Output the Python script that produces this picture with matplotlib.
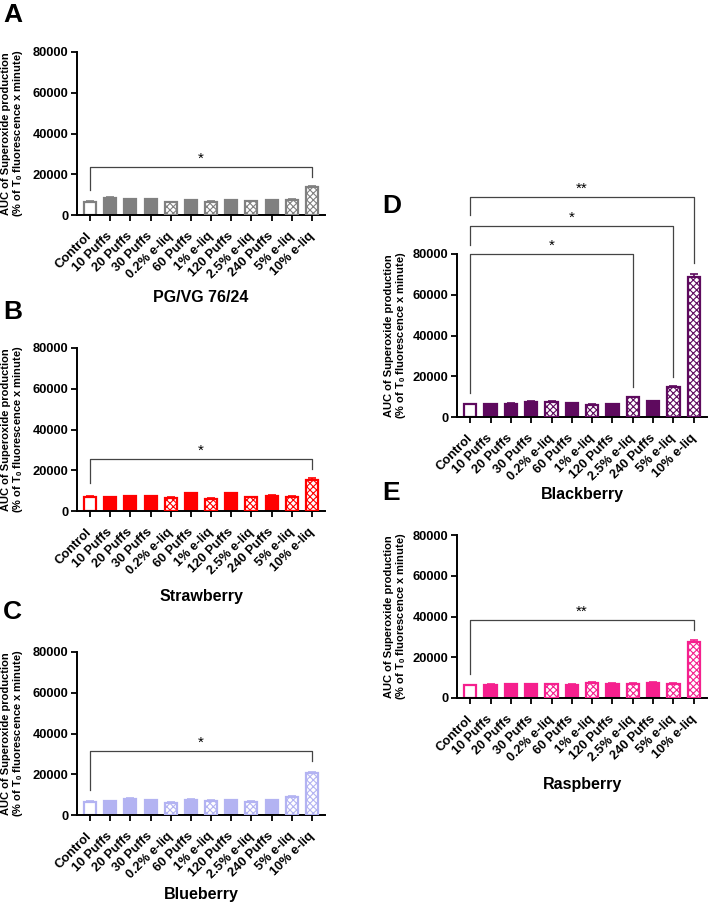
import matplotlib
matplotlib.use("Agg")
import matplotlib.pyplot as plt
import numpy as np

plt.rcParams["font.family"] = ["Liberation Sans", "DejaVu Sans"]
plt.rcParams["font.weight"] = "bold"
plt.rcParams["axes.labelweight"] = "bold"
plt.rcParams["mathtext.fontset"] = "custom"
plt.rcParams["mathtext.bf"] = "Liberation Sans:bold"
plt.rcParams["mathtext.rm"] = "Liberation Sans:bold"
plt.rcParams["hatch.linewidth"] = 0.8

groups = ["Control", "10 Puffs", "20 Puffs", "30 Puffs", "0.2% e-liq", "60 Puffs",
          "1% e-liq", "120 Puffs", "2.5% e-liq", "240 Puffs", "5% e-liq", "10% e-liq"]
# which bars are e-liquid (checkered) vs puffs (solid); control is open
eliq = [False, False, False, False, True, False, True, False, True, False, True, True]

pgvg = [6500, 8400, 7700, 7700, 6300, 7400, 6600, 7200, 6800, 7400, 7600, 13900]
pgvg_err = [250, 250, 200, 200, 250, 200, 250, 200, 250, 200, 300, 500]
strawberry = [6900, 6900, 7300, 7300, 6400, 8800, 6100, 8600, 6700, 7600, 6900, 15300]
strawberry_err = [250, 200, 250, 250, 300, 250, 250, 250, 300, 250, 250, 900]
blueberry = [6400, 6700, 8000, 7200, 5900, 7500, 7000, 7400, 6500, 7400, 9000, 20500]
blueberry_err = [250, 200, 250, 200, 250, 200, 250, 200, 250, 200, 300, 700]
blackberry = [6300, 6300, 6600, 7400, 7400, 6900, 6100, 6400, 9700, 7700, 14900, 68500]
blackberry_err = [250, 200, 200, 250, 250, 200, 250, 200, 300, 200, 400, 1900]
raspberry = [6200, 6500, 6800, 6800, 6700, 6500, 7500, 7000, 7000, 7500, 7000, 27600]
raspberry_err = [250, 200, 200, 200, 250, 200, 300, 200, 250, 250, 250, 1100]

# significance brackets: (from, to, bracket y, left leg end, right leg end, label)
sig_pgvg = [(0, 11, 23700, 12500, 18800, "*")]
sig_strawberry = [(0, 11, 25400, 13900, 20500, "*")]
sig_blueberry = [(0, 11, 31500, 12200, 26600, "*")]
sig_blackberry = [(0, 8, 80000, 11800, 14900, "*"),
                  (0, 10, 93700, 84400, 19800, "*"),
                  (0, 11, 108000, 99100, 75600, "**")]
sig_raspberry = [(0, 11, 38200, 11700, 33300, "**")]

W, H = 708, 906
fig = plt.figure(figsize=(W / 100, H / 100), dpi=100)


def panel(left, top, right, bottom, vals, errs, color, sigs, title, letter,
          letter_xy, title_y, label_right):
    ax = fig.add_axes([left / W, 1 - bottom / H, (right - left) / W, (bottom - top) / H])
    x = np.arange(len(groups))
    for i, v in enumerate(vals):
        if i == 0:
            ax.bar(x[i], v, width=0.6, facecolor="white", edgecolor=color, linewidth=1.6, zorder=2)
        elif eliq[i]:
            ax.bar(x[i], v, width=0.6, facecolor="white", edgecolor=color, hatch="xxxxx",
                   linewidth=0, zorder=2)
            ax.bar(x[i], v, width=0.6, facecolor="none", edgecolor=color, linewidth=1.6, zorder=3)
        else:
            ax.bar(x[i], v, width=0.6, facecolor=color, edgecolor=color, linewidth=1.6, zorder=2)
    ax.errorbar(x, vals, yerr=[np.zeros(len(vals)), errs], fmt="none", ecolor=color,
                elinewidth=1.2, capsize=3, capthick=1.2, zorder=4)
    for a, b, y, yl, yr, lab in sigs:
        ax.plot([a, a, b, b], [yl, y, y, yr], color="#444444", linewidth=0.9,
                clip_on=False, zorder=1)
        ax.text((a + b) / 2, y + 600, lab, ha="center", va="bottom", fontsize=11,
                fontweight="normal", clip_on=False)
    ax.set_ylim(0, 80000)
    ax.set_xlim(-0.65, 11.65)
    ax.set_yticks([0, 20000, 40000, 60000, 80000])
    ax.set_xticks(x)
    ax.set_xticklabels(groups, rotation=45, ha="right", va="center", rotation_mode="anchor")
    ax.tick_params(axis="both", labelsize=9.3, width=1.3, length=4, pad=2)
    ax.tick_params(axis="x", pad=10)
    for s in ["top", "right"]:
        ax.spines[s].set_visible(False)
    for s in ["left", "bottom"]:
        ax.spines[s].set_linewidth(1.4)
    ax.set_ylabel("AUC of Superoxide production\n(% of T$_{\\mathbf{0}}$ fluorescence x minute)",
                  fontsize=8, fontweight="bold", linespacing=0.95)
    ax.yaxis.set_label_coords((label_right - left) / (right - left), 0.5)
    fig.text((left + right) / 2 / W, 1 - title_y / H, title, ha="center", va="center",
             fontsize=11.5, fontweight="bold")
    fig.text(letter_xy[0] / W, 1 - letter_xy[1] / H, letter, ha="left", va="top",
             fontsize=19, fontweight="bold")
    return ax


panel(77, 52, 325, 215, pgvg, pgvg_err, "#808080", sig_pgvg, "PG/VG 76/24", "A",
      (3, 3), 298, 25)
panel(77, 348, 325, 511, strawberry, strawberry_err, "#ff0000", sig_strawberry,
      "Strawberry", "B", (3, 300), 597, 25)
panel(77, 652, 325, 815, blueberry, blueberry_err, "#b3b3f2", sig_blueberry,
      "Blueberry", "C", (3, 600), 895, 25)
panel(457, 254, 707, 417, blackberry, blackberry_err, "#5e0a5e", sig_blackberry,
      "Blackberry", "D", (382, 194), 495, 408)
panel(457, 535, 707, 698, raspberry, raspberry_err, "#f5208e", sig_raspberry,
      "Raspberry", "E", (382, 481), 785, 408)

fig.savefig("out.png", dpi=100)
